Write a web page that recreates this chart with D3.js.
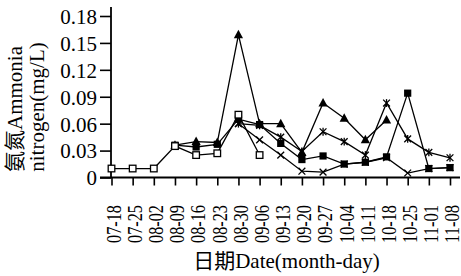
<!DOCTYPE html>
<html><head><meta charset="utf-8">
<script src="https://cdn.jsdelivr.net/npm/d3@7"></script>
<style>
html,body{margin:0;padding:0;background:#fff;}
svg{display:block;}
</style></head>
<body>
<svg id="chart" width="461" height="276"></svg>
<script>
const dates = ["07-18","07-25","08-02","08-09","08-16","08-23","08-30","09-06","09-13","09-20","09-27","10-04","10-11","10-18","10-25","11-01","11-08"];
const yTicks = [0, 0.03, 0.06, 0.09, 0.12, 0.15, 0.18];
const yTickLabels = ["0","0.03","0.06","0.09","0.12","0.15","0.18"];
const openSquare = [0.010,0.010,0.010,0.035,0.025,0.027,0.070,0.025,null,null,null,null,null,null,null,null,null];
const filledSquare = [null,null,null,0.036,0.034,0.037,0.065,0.059,0.038,0.020,0.024,0.015,0.017,0.023,0.094,0.010,0.011];
const triangle = [null,null,null,0.036,0.040,0.039,0.159,0.060,0.060,0.028,0.083,0.066,0.042,0.064,null,null,null];
const asterisk = [null,null,null,null,null,null,0.060,0.058,0.045,0.029,0.051,0.040,0.025,0.083,0.043,0.028,0.022];
const cross = [null,null,null,null,null,null,0.060,0.042,0.025,0.007,0.006,0.015,0.017,0.022,0.005,0.010,0.011];
const yTitle1 = "氨氮Ammonia";
const yTitle2 = "nitrogen(mg/L)";
const xTitle = "日期Date(month-day)";

const FONT = "'Liberation Serif','Noto Sans CJK SC',serif";
const svg = d3.select("#chart");
const x = d3.scalePoint().domain(dates).range([111.5, 450]);
const y = d3.scaleLinear().domain([0, 0.18]).range([177.5, 16]);
const FS = 21;

// axes lines
svg.append("line").attr("x1",100).attr("x2",460).attr("y1",y(0)).attr("y2",y(0))
  .attr("stroke","#000").attr("stroke-width",1.8);
svg.append("line").attr("x1",111).attr("x2",111).attr("y1",y(0)).attr("y2",7)
  .attr("stroke","#000").attr("stroke-width",1.8);

// y axis ticks
const yAxis = d3.axisLeft(y).tickValues(yTicks).tickSize(11).tickPadding(3)
  .tickFormat((d,i)=>yTickLabels[i]);
const gy = svg.append("g").attr("transform","translate(111,0)").call(yAxis);
gy.attr("font-family", null).attr("font-size", null);
gy.select(".domain").remove();
gy.selectAll(".tick line").attr("stroke","#000").attr("stroke-width",1.6);
gy.selectAll(".tick text").style("font-family",FONT).style("font-size",FS+"px").attr("fill","#000").attr("dy","0.35em");

// x axis ticks
const xAxis = d3.axisBottom(x).tickSize(8).tickFormat("");
const gx = svg.append("g").attr("transform",`translate(0,${y(0)})`).call(xAxis);
gx.select(".domain").remove();
gx.selectAll(".tick line").attr("stroke","#000").attr("stroke-width",1.6);

// x tick labels (rotated)
svg.append("g").selectAll("text").data(dates).join("text")
  .attr("transform", d => `translate(${x(d)+2},205) rotate(-90)`)
  .attr("text-anchor","end").attr("dy","0.35em")
  .attr("textLength",38).attr("lengthAdjust","spacingAndGlyphs")
  .style("font-family",FONT).style("font-size",FS+"px").text(d=>d);

// titles
svg.append("text").attr("x",286.5).attr("y",268).attr("text-anchor","middle")
  .style("font-family",FONT).style("font-size",FS+"px").text(xTitle);
svg.append("text").attr("transform","translate(22,109) rotate(-90)").attr("text-anchor","middle")
  .style("font-family",FONT).style("font-size",FS+"px").text(yTitle1);
svg.append("text").attr("transform","translate(43.5,107) rotate(-90)").attr("text-anchor","middle")
  .style("font-family",FONT).style("font-size",FS+"px").text(yTitle2);

// series
const series = [
  {vals: filledSquare, m: "fsq"},
  {vals: triangle, m: "tri"},
  {vals: asterisk, m: "ast"},
  {vals: cross, m: "x"},
  {vals: openSquare, m: "osq"}
];
const line = d3.line().defined(d => d.v != null).x(d => x(d.d)).y(d => y(d.v));
const plot = svg.append("g");
series.forEach(s => {
  const pts = dates.map((d,i)=>({d, v: s.vals[i]}));
  plot.append("path").datum(pts).attr("d", line).attr("fill","none")
    .attr("stroke","#000").attr("stroke-width",1.3);
});
series.forEach(s => {
  const pts = dates.map((d,i)=>({d, v: s.vals[i]})).filter(p=>p.v!=null);
  const g = plot.append("g");
  pts.forEach(p => {
    const cx = x(p.d), cy = y(p.v);
    if (s.m === "fsq") {
      g.append("rect").attr("x",cx-3.6).attr("y",cy-3.6).attr("width",7.2).attr("height",7.2).attr("fill","#000");
    } else if (s.m === "osq") {
      g.append("rect").attr("x",cx-3.3).attr("y",cy-3.3).attr("width",6.6).attr("height",6.6)
        .attr("fill","#fff").attr("stroke","#000").attr("stroke-width",1.3);
    } else if (s.m === "tri") {
      g.append("path").attr("d",`M${cx},${cy-5}L${cx+4.6},${cy+3.5}L${cx-4.6},${cy+3.5}Z`).attr("fill","#000");
    } else if (s.m === "x" || s.m === "ast") {
      const r = 3.4;
      g.append("path").attr("d",`M${cx-r},${cy-r}L${cx+r},${cy+r}M${cx-r},${cy+r}L${cx+r},${cy-r}`)
        .attr("stroke","#000").attr("stroke-width",1.3);
      if (s.m === "ast") {
        g.append("path").attr("d",`M${cx},${cy-r-0.5}L${cx},${cy+r+0.5}`).attr("stroke","#000").attr("stroke-width",1.3);
      }
    }
  });
});
</script>
</body></html>
